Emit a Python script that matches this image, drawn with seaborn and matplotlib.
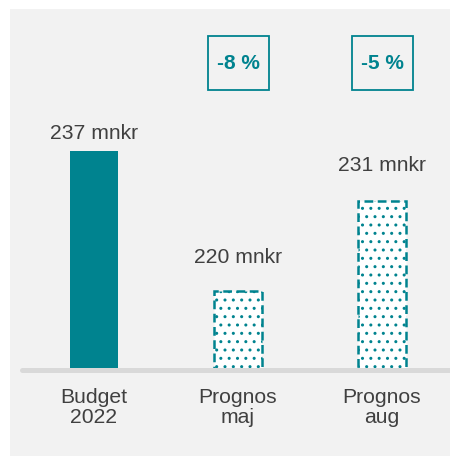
import matplotlib
matplotlib.use("Agg")
import matplotlib.pyplot as plt
import matplotlib.transforms as mtransforms
from matplotlib.patches import Rectangle
import seaborn as sns
import pandas as pd

categories = ["Budget\n2022", "Prognos\nmaj", "Prognos\naug"]
values = [237, 220, 231]
value_labels = ["237 mnkr", "220 mnkr", "231 mnkr"]
change_labels = ["", "-8 %", "-5 %"]

TEAL = "#00838f"
TEXT = "#404040"

sns.set_theme(style="white")
plt.rcParams["font.family"] = ["Liberation Sans", "DejaVu Sans"]
plt.rcParams["hatch.linewidth"] = 1.0

df = pd.DataFrame({"cat": categories, "val": values})

fig = plt.figure(figsize=(4.5, 4.62), dpi=100)
fig.patch.set_facecolor("white")
fig.patches.append(Rectangle((10 / 450, 6 / 462), 440 / 450, 447 / 462,
                             transform=fig.transFigure, facecolor="#f2f2f2",
                             edgecolor="none", zorder=-10))

ax = fig.add_axes([22 / 450, 92 / 462, 428 / 450, 361 / 462])
ax.set_facecolor("none")

sns.barplot(data=df, x="cat", y="val", color=TEAL, saturation=1, width=0.33, ax=ax)

for i, p in enumerate(ax.patches):
    if i == 0:
        p.set_facecolor(TEAL)
        p.set_edgecolor("none")
    else:
        p.set_facecolor("white")
        p.set_edgecolor(TEAL)
        p.set_hatch("..")
        p.set_linewidth(1.8)
        p.set_linestyle((0, (3.5, 1.8)))

ymin = 210.33
ax.set_ylim(ymin, 254.38)
ax.set_xlim(-0.5, 2.472)

ax.axhline(ymin, color="#d9d9d9", lw=3.6, clip_on=False, zorder=5)

offsets = [8.6, 20, 21.5]
for i, (v, lab) in enumerate(zip(values, value_labels)):
    ax.annotate(lab, (i, v), xytext=(0, offsets[i]), textcoords="offset points",
                ha="center", va="baseline", fontsize=15.2, color=TEXT)

trans = mtransforms.blended_transform_factory(ax.transData, ax.transAxes)
bw = 61 / 144
for i, lab in enumerate(change_labels):
    if not lab:
        continue
    ax.add_patch(Rectangle((i - bw / 2, 0.7756), bw, 0.1496, transform=trans,
                           facecolor="none", edgecolor=TEAL, lw=1.3, clip_on=False))
    ax.text(i, 0.850, lab, transform=trans, ha="center", va="center",
            fontsize=15, fontweight="bold", color=TEAL)

for s in ax.spines.values():
    s.set_visible(False)
ax.set_yticks([])
ax.set_xlabel("")
ax.set_ylabel("")
ax.tick_params(axis="x", length=0, pad=13, labelsize=15.2, labelcolor=TEXT)
for t in ax.get_xticklabels():
    t.set_linespacing(1.05)

fig.savefig("out.png", dpi=100)
